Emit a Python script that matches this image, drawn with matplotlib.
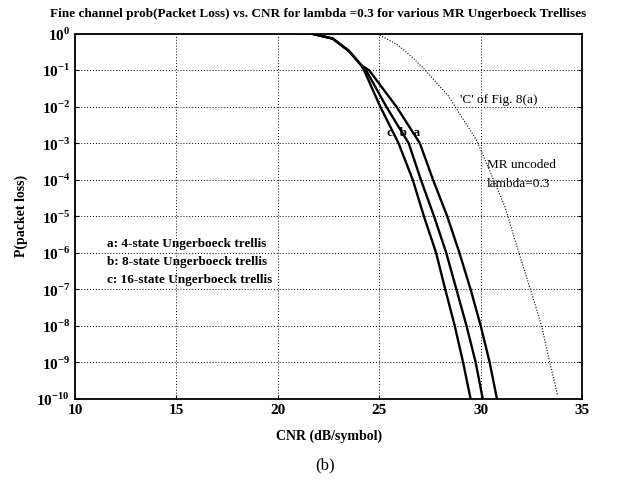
import matplotlib
matplotlib.use("Agg")
import matplotlib.pyplot as plt

plt.rcParams['font.family'] = ['Liberation Serif', 'DejaVu Serif']
plt.rcParams['font.weight'] = 'bold'
plt.rcParams['mathtext.fontset'] = 'custom'
plt.rcParams['mathtext.rm'] = 'Liberation Serif:bold'
plt.rcParams['mathtext.bf'] = 'Liberation Serif:bold'

# curve c: 16-state, b: 8-state, a: 4-state
cnr_c = [21.0, 21.7, 22.7, 23.5, 24.1, 24.25, 25.05, 25.95, 26.65, 27.2, 27.8, 28.25, 28.72, 29.13, 29.5]
p_c = [1.0, 1.0, 0.74, 0.34, 0.14, 0.1, 1e-2, 1e-3, 1e-4, 1e-5, 1e-6, 1e-7, 1e-8, 1e-9, 1e-10]
cnr_b = [21.0, 21.7, 22.7, 23.5, 24.1, 24.35, 25.35, 26.45, 27.05, 27.7, 28.3, 28.8, 29.3, 29.75, 30.1]
p_b = [1.0, 1.0, 0.74, 0.34, 0.14, 0.1, 1e-2, 1e-3, 1e-4, 1e-5, 1e-6, 1e-7, 1e-8, 1e-9, 1e-10]
cnr_a = [21.0, 21.7, 22.7, 23.5, 24.1, 24.5, 25.85, 27.0, 27.65, 28.35, 28.95, 29.5, 30.0, 30.44, 30.8]
p_a = [1.0, 1.0, 0.74, 0.34, 0.14, 0.1, 1e-2, 1e-3, 1e-4, 1e-5, 1e-6, 1e-7, 1e-8, 1e-9, 1e-10]

# MR uncoded, lambda = 0.3 (dotted)
cnr_u = [24.9, 25.9, 26.6, 27.2, 28.4, 29.8, 30.5, 31.2, 31.8, 32.45, 33.0, 33.4, 33.8]
p_u = [1.0, 0.5, 0.234, 0.11, 0.02, 1.2e-3, 1.5e-4, 1.8e-5, 1.4e-6, 1e-7, 1e-8, 1e-9, 1.2e-10]

xticks = [10, 15, 20, 25, 30, 35]
yexp = list(range(0, -11, -1))

fig = plt.figure(figsize=(6.2, 4.83), dpi=100)
ax = fig.add_axes([0.121, 0.174, 0.818, 0.756])

ax.semilogy(cnr_c, p_c, color='black', lw=1.7)
ax.semilogy(cnr_b, p_b, color='black', lw=1.7)
ax.semilogy(cnr_a, p_a, color='black', lw=1.7)
ax.semilogy(cnr_u, p_u, color='black', lw=0.8, linestyle=(0, (1, 1.5)))

ax.set_xlim(10, 35)
ax.set_ylim(1e-10, 1)
ax.set_xticks(xticks)
ax.set_xticklabels([str(t) for t in xticks], fontsize=11, fontweight='bold')
ax.set_yticks([10.0 ** e for e in yexp])
ax.set_yticklabels([r'$10^{%d}$' % e for e in yexp], fontsize=11)
ax.minorticks_off()
ax.tick_params(direction='in', length=3, width=0.8, right=True)
ax.grid(True, color='black', linestyle=(0, (1, 2)), linewidth=0.7)
for s in ax.spines.values():
    s.set_linewidth(1.3)

fig.text(0.513, 0.972, 'Fine channel prob(Packet Loss) vs. CNR for lambda =0.3 for various MR Ungerboeck Trellises',
         ha='center', va='center', fontsize=9.5, fontweight='bold')
ax.set_ylabel('P(packet loss)', fontsize=10, fontweight='bold', labelpad=6)
ax.set_xlabel('CNR (dB/symbol)', fontsize=10, fontweight='bold', labelpad=9)
fig.text(0.524, 0.037, '(b)', ha='center', va='center', fontsize=12, fontweight='normal')

ax.text(25.4, 10 ** -2.72, "c  b  a", fontsize=9.5, fontweight='bold', va='center')
ax.text(29.0, 10 ** -1.8, "'C' of Fig. 8(a)", fontsize=9.5, fontweight='normal', va='center')
ax.text(30.3, 10 ** -3.6, "MR uncoded", fontsize=9.5, fontweight='normal', va='center')
ax.text(30.3, 10 ** -4.1, "lambda=0.3", fontsize=9.5, fontweight='normal', va='center')
ax.text(11.6, 10 ** -5.75, "a: 4-state Ungerboeck trellis", fontsize=9.5, va='center')
ax.text(11.6, 10 ** -6.25, "b: 8-state Ungerboeck trellis", fontsize=9.5, va='center')
ax.text(11.6, 10 ** -6.75, "c: 16-state Ungerboeck trellis", fontsize=9.5, va='center')

fig.savefig('out.png', dpi=100)
